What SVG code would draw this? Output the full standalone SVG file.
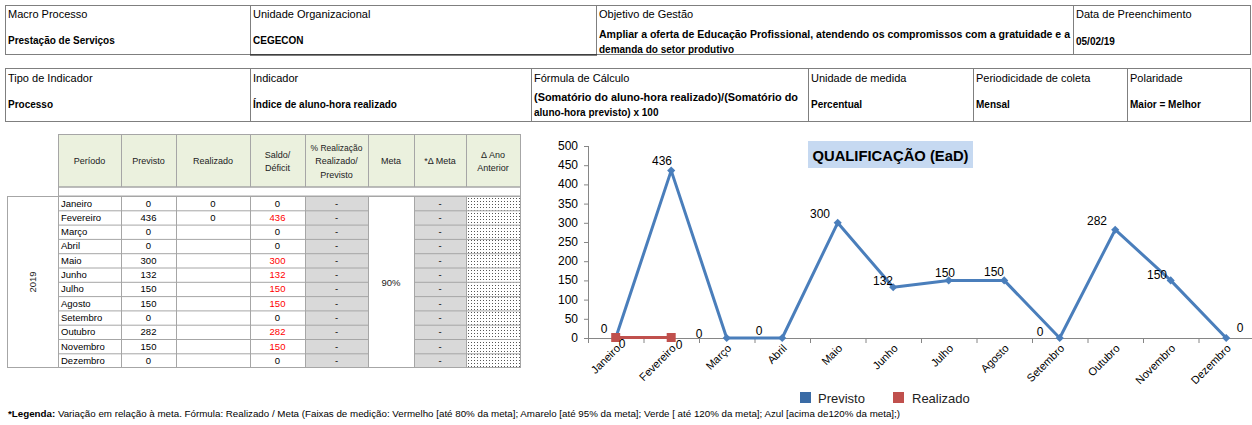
<svg xmlns="http://www.w3.org/2000/svg" width="1252" height="425" viewBox="0 0 1252 425">
<defs>
<style>
text{font-family:"Liberation Sans",Arial,sans-serif;fill:#000}
.lbl{font-size:11px}
.val{font-size:10px;font-weight:bold}
.th{font-size:9px;text-anchor:middle;fill:#222}
.td{font-size:9.5px;fill:#222}
.c{text-anchor:middle}
.red{fill:#FF0000}
.grid{stroke:#A6A6A6;stroke-width:1;fill:none}
.box{fill:none;stroke:#7F7F7F;stroke-width:1}
.ax{font-size:12px;text-anchor:end;fill:#222}
.dl{font-size:12px;text-anchor:middle;fill:#222}
.xl{font-size:11px;text-anchor:end;fill:#222}
.gray{fill:#D9D9D9}
</style>
<pattern id="dots" width="3" height="3" patternUnits="userSpaceOnUse"><rect width="3" height="3" fill="#fff"/><rect width="1" height="1" fill="#555"/></pattern>
<marker id="dia" viewBox="-5 -5 10 10" markerWidth="9" markerHeight="9" refX="0" refY="0" markerUnits="userSpaceOnUse"><path d="M0,-4.5 L4.5,0 0,4.5 -4.5,0Z" fill="#4A7EBB"/></marker>
<marker id="sq" viewBox="-5 -5 10 10" markerWidth="10" markerHeight="10" refX="0" refY="0" markerUnits="userSpaceOnUse"><rect x="-4.5" y="-4.5" width="9" height="9" fill="#C0504D"/></marker>
</defs>
<rect width="1252" height="425" fill="#fff"/>

<g id="header1">
<rect class="box" x="5.5" y="5.5" width="1245" height="49"/>
<line class="box" x1="250.5" y1="5" x2="250.5" y2="55"/>
<line class="box" x1="596.5" y1="5" x2="596.5" y2="55"/>
<line class="box" x1="1073.5" y1="5" x2="1073.5" y2="55"/>
<line x1="250" y1="55" x2="597" y2="55" stroke="#000" stroke-width="1.2"/>
<text class="lbl" x="8" y="18">Macro Processo</text>
<text class="val" x="8" y="44">Prestação de Serviços</text>
<text class="lbl" x="253" y="18">Unidade Organizacional</text>
<text class="val" x="253" y="44">CEGECON</text>
<text class="lbl" x="599" y="18">Objetivo de Gestão</text>
<text class="val" x="599" y="38" textLength="471" lengthAdjust="spacingAndGlyphs">Ampliar a oferta de Educação Profissional, atendendo os compromissos com a gratuidade e a</text>
<text class="val" x="599" y="53">demanda do setor produtivo</text>
<text class="lbl" x="1076" y="18">Data de Preenchimento</text>
<text class="val" x="1076" y="45">05/02/19</text>
</g>

<g id="header2">
<rect class="box" x="5.5" y="68.5" width="1245" height="53"/>
<line class="box" x1="250.5" y1="68" x2="250.5" y2="122"/>
<line class="box" x1="531.5" y1="68" x2="531.5" y2="122"/>
<line class="box" x1="808.5" y1="68" x2="808.5" y2="122"/>
<line class="box" x1="973.5" y1="68" x2="973.5" y2="122"/>
<line class="box" x1="1127.5" y1="68" x2="1127.5" y2="122"/>
<text class="lbl" x="8" y="82">Tipo de Indicador</text>
<text class="val" x="8" y="108">Processo</text>
<text class="lbl" x="253" y="82">Indicador</text>
<text class="val" x="253" y="108">Índice de aluno-hora realizado</text>
<text class="lbl" x="534" y="82">Fórmula  de Cálculo</text>
<text class="val" x="534" y="101" textLength="264" lengthAdjust="spacingAndGlyphs">(Somatório do aluno-hora realizado)/(Somatório do</text>
<text class="val" x="534" y="116">aluno-hora previsto) x 100</text>
<text class="lbl" x="811" y="82">Unidade de medida</text>
<text class="val" x="811" y="108">Percentual</text>
<text class="lbl" x="976" y="82">Periodicidade de coleta</text>
<text class="val" x="976" y="108">Mensal</text>
<text class="lbl" x="1130" y="82">Polaridade</text>
<text class="val" x="1130" y="108">Maior = Melhor</text>
</g>

<g id="table">
<rect x="58" y="134" width="462" height="53" fill="#EBF1DE"/>
<rect class="grid" x="58.5" y="134.5" width="462" height="52.5"/>
<g class="grid">
<line x1="121.5" y1="134" x2="121.5" y2="187"/>
<line x1="176.5" y1="134" x2="176.5" y2="187"/>
<line x1="250.5" y1="134" x2="250.5" y2="187"/>
<line x1="305.5" y1="134" x2="305.5" y2="187"/>
<line x1="368.5" y1="134" x2="368.5" y2="187"/>
<line x1="414.5" y1="134" x2="414.5" y2="187"/>
<line x1="466.5" y1="134" x2="466.5" y2="187"/>
</g>
<rect class="grid" x="58.5" y="187" width="462" height="9"/>
<text class="th" x="89.5" y="164">Período</text>
<text class="th" x="148.5" y="164">Previsto</text>
<text class="th" x="213" y="164">Realizado</text>
<text class="th" x="277.5" y="158">Saldo/</text>
<text class="th" x="277.5" y="171">Déficit</text>
<text class="th" x="336.5" y="151" style="font-size:8.5px">% Realização</text>
<text class="th" x="336.5" y="164">Realizado/</text>
<text class="th" x="336.5" y="178">Previsto</text>
<text class="th" x="391" y="164">Meta</text>
<text class="th" x="440" y="164">*Δ Meta</text>
<text class="th" x="493" y="158">Δ Ano</text>
<text class="th" x="493" y="171">Anterior</text>

<rect x="305" y="196" width="63" height="171.6" class="gray"/>
<rect x="414" y="196" width="52" height="171.6" class="gray"/>
<rect x="466" y="196" width="54" height="171.6" fill="url(#dots)"/>
<g class="grid">
<rect x="7.5" y="196.5" width="513" height="171"/>
<line x1="58.5" y1="196" x2="58.5" y2="368"/>
<line x1="121.5" y1="196" x2="121.5" y2="368"/>
<line x1="176.5" y1="196" x2="176.5" y2="368"/>
<line x1="250.5" y1="196" x2="250.5" y2="368"/>
<line x1="305.5" y1="196" x2="305.5" y2="368"/>
<line x1="368.5" y1="196" x2="368.5" y2="368"/>
<line x1="414.5" y1="196" x2="414.5" y2="368"/>
<line x1="466.5" y1="196" x2="466.5" y2="368"/>
<path d="M58,210.8H368M414,210.8H521M58,225.1H368M414,225.1H521M58,239.4H368M414,239.4H521M58,253.7H368M414,253.7H521M58,268H368M414,268H521M58,282.3H368M414,282.3H521M58,296.6H368M414,296.6H521M58,310.9H368M414,310.9H521M58,325.2H368M414,325.2H521M58,339.5H368M414,339.5H521M58,353.8H368M414,353.8H521"/>
</g>
<text class="td c" transform="translate(36,282) rotate(-90)">2019</text>
<text class="td c" x="391" y="286">90%</text>

<g class="td">
<text x="61" y="206.5">Janeiro</text>
<text x="61" y="220.8">Fevereiro</text>
<text x="61" y="235.1">Março</text>
<text x="61" y="249.4">Abril</text>
<text x="61" y="263.7">Maio</text>
<text x="61" y="278">Junho</text>
<text x="61" y="292.3">Julho</text>
<text x="61" y="306.6">Agosto</text>
<text x="61" y="320.9">Setembro</text>
<text x="61" y="335.2">Outubro</text>
<text x="61" y="349.5">Novembro</text>
<text x="61" y="363.8">Dezembro</text>
</g>
<g class="td c">
<text x="148.5" y="206.5">0</text>
<text x="148.5" y="220.8">436</text>
<text x="148.5" y="235.1">0</text>
<text x="148.5" y="249.4">0</text>
<text x="148.5" y="263.7">300</text>
<text x="148.5" y="278">132</text>
<text x="148.5" y="292.3">150</text>
<text x="148.5" y="306.6">150</text>
<text x="148.5" y="320.9">0</text>
<text x="148.5" y="335.2">282</text>
<text x="148.5" y="349.5">150</text>
<text x="148.5" y="363.8">0</text>
<text x="213" y="206.5">0</text>
<text x="213" y="220.8">0</text>
<text x="277.5" y="206.5">0</text>
<text x="277.5" y="220.8" class="red">436</text>
<text x="277.5" y="235.1">0</text>
<text x="277.5" y="249.4">0</text>
<text x="277.5" y="263.7" class="red">300</text>
<text x="277.5" y="278" class="red">132</text>
<text x="277.5" y="292.3" class="red">150</text>
<text x="277.5" y="306.6" class="red">150</text>
<text x="277.5" y="320.9">0</text>
<text x="277.5" y="335.2" class="red">282</text>
<text x="277.5" y="349.5" class="red">150</text>
<text x="277.5" y="363.8">0</text>
</g>
<g class="td c">
<text x="336.5" y="206.5">-</text><text x="336.5" y="220.8">-</text><text x="336.5" y="235.1">-</text><text x="336.5" y="249.4">-</text><text x="336.5" y="263.7">-</text><text x="336.5" y="278">-</text><text x="336.5" y="292.3">-</text><text x="336.5" y="306.6">-</text><text x="336.5" y="320.9">-</text><text x="336.5" y="335.2">-</text><text x="336.5" y="349.5">-</text><text x="336.5" y="363.8">-</text>
<text x="440" y="206.5">-</text><text x="440" y="220.8">-</text><text x="440" y="235.1">-</text><text x="440" y="249.4">-</text><text x="440" y="263.7">-</text><text x="440" y="278">-</text><text x="440" y="292.3">-</text><text x="440" y="306.6">-</text><text x="440" y="320.9">-</text><text x="440" y="335.2">-</text><text x="440" y="349.5">-</text><text x="440" y="363.8">-</text>
</g>
</g>

<g id="chart">
<rect x="808" y="141" width="165" height="27" fill="#C6D9F1"/>
<text x="890.5" y="161" class="c" style="font-size:15px;font-weight:bold" textLength="156" lengthAdjust="spacingAndGlyphs">QUALIFICAÇÃO (EaD)</text>
<g stroke="#868686" stroke-width="1" fill="none">
<path d="M588.5,146V338.5H1252"/>
<path d="M584,146.5H588M584,165.7H588M584,184.9H588M584,204.1H588M584,223.3H588M584,242.5H588M584,261.7H588M584,280.9H588M584,300.1H588M584,319.3H588M584,338.5H588"/>
<path d="M588.5,338V343M644,338V343M699.5,338V343M755,338V343M810.5,338V343M866,338V343M921.5,338V343M977,338V343M1032.5,338V343M1088,338V343M1143.5,338V343M1199,338V343"/>
</g>
<g class="ax">
<text x="578" y="150">500</text><text x="578" y="169.2">450</text><text x="578" y="188.4">400</text><text x="578" y="207.6">350</text><text x="578" y="226.8">300</text><text x="578" y="246">250</text><text x="578" y="265.2">200</text><text x="578" y="284.4">150</text><text x="578" y="303.6">100</text><text x="578" y="322.8">50</text><text x="578" y="342">0</text>
</g>
<g class="xl">
<text transform="translate(621,349) rotate(-45)">Janeiro</text>
<text transform="translate(676.5,349) rotate(-45)">Fevereiro</text>
<text transform="translate(732,349) rotate(-45)">Março</text>
<text transform="translate(787.5,349) rotate(-45)">Abril</text>
<text transform="translate(843,349) rotate(-45)">Maio</text>
<text transform="translate(898.5,349) rotate(-45)">Junho</text>
<text transform="translate(954,349) rotate(-45)">Julho</text>
<text transform="translate(1009.5,349) rotate(-45)">Agosto</text>
<text transform="translate(1065,349) rotate(-45)">Setembro</text>
<text transform="translate(1120.5,349) rotate(-45)">Outubro</text>
<text transform="translate(1176,349) rotate(-45)">Novembro</text>
<text transform="translate(1231.5,349) rotate(-45)">Dezembro</text>
</g>
<polyline points="615.7,338 671.2,170.6 726.7,338 782.2,338 837.7,222.8 893.2,287.3 948.7,280.4 1004.2,280.4 1059.7,338 1115.2,229.7 1170.7,280.4 1226.2,338" fill="none" stroke="#4A7EBB" stroke-width="3" stroke-linejoin="round" marker-start="url(#dia)" marker-mid="url(#dia)" marker-end="url(#dia)"/>
<polyline points="615.7,337.5 671.2,337.5" fill="none" stroke="#C0504D" stroke-width="3" marker-start="url(#sq)" marker-end="url(#sq)"/>
<g class="dl">
<text x="662" y="165">436</text>
<text x="820" y="218">300</text>
<text x="883" y="285">132</text>
<text x="945" y="277">150</text>
<text x="994" y="276">150</text>
<text x="1097" y="225">282</text>
<text x="1157" y="279">150</text>
<text x="604" y="333">0</text>
<text x="622" y="348">0</text>
<text x="679" y="349">0</text>
<text x="699" y="338">0</text>
<text x="759" y="335">0</text>
<text x="1040" y="336">0</text>
<text x="1240" y="332">0</text>
</g>
<g id="legend">
<rect x="800" y="392" width="11" height="11" fill="#3A6BA5"/>
<text x="818" y="403" style="font-size:13px;fill:#222">Previsto</text>
<rect x="893" y="392" width="11" height="11" fill="#C0504D"/>
<text x="912" y="403" style="font-size:13px;fill:#222">Realizado</text>
</g>
</g>

<text x="8" y="417" style="font-size:8.5px" textLength="892" lengthAdjust="spacingAndGlyphs"><tspan style="font-weight:bold">*Legenda:</tspan> Variação em relação à meta. Fórmula: Realizado / Meta (Faixas de medição: Vermelho [até 80% da meta]; Amarelo [até 95% da meta]; Verde [ até 120% da meta]; Azul [acima de120% da meta];)</text>
</svg>
